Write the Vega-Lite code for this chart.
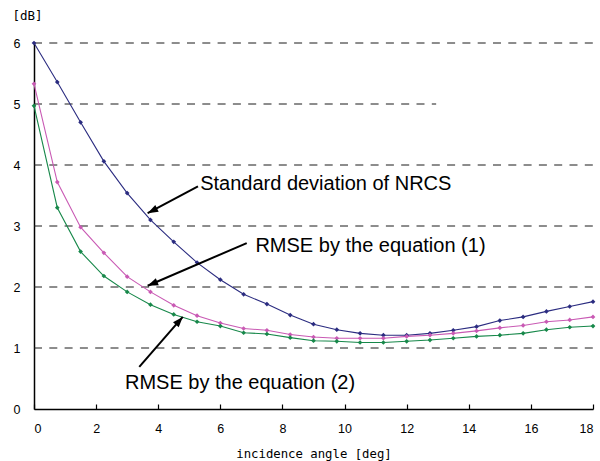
{
  "$schema": "https://vega.github.io/schema/vega-lite/v6.json",
  "autosize": "none",
  "width": 559,
  "height": 366,
  "padding": {"left": 34, "top": 43, "right": 7, "bottom": 52},
  "background": "white",
  "config": {
    "view": {"stroke": null},
    "font": "Liberation Sans"
  },
  "datasets": {
    "series": [
      {"angle": 0, "value": 6.00, "series": "Standard deviation of NRCS"},
      {"angle": 0.75, "value": 5.36, "series": "Standard deviation of NRCS"},
      {"angle": 1.5, "value": 4.70, "series": "Standard deviation of NRCS"},
      {"angle": 2.25, "value": 4.06, "series": "Standard deviation of NRCS"},
      {"angle": 3, "value": 3.54, "series": "Standard deviation of NRCS"},
      {"angle": 3.75, "value": 3.10, "series": "Standard deviation of NRCS"},
      {"angle": 4.5, "value": 2.74, "series": "Standard deviation of NRCS"},
      {"angle": 5.25, "value": 2.40, "series": "Standard deviation of NRCS"},
      {"angle": 6, "value": 2.12, "series": "Standard deviation of NRCS"},
      {"angle": 6.75, "value": 1.88, "series": "Standard deviation of NRCS"},
      {"angle": 7.5, "value": 1.72, "series": "Standard deviation of NRCS"},
      {"angle": 8.25, "value": 1.54, "series": "Standard deviation of NRCS"},
      {"angle": 9, "value": 1.39, "series": "Standard deviation of NRCS"},
      {"angle": 9.75, "value": 1.30, "series": "Standard deviation of NRCS"},
      {"angle": 10.5, "value": 1.24, "series": "Standard deviation of NRCS"},
      {"angle": 11.25, "value": 1.21, "series": "Standard deviation of NRCS"},
      {"angle": 12, "value": 1.21, "series": "Standard deviation of NRCS"},
      {"angle": 12.75, "value": 1.24, "series": "Standard deviation of NRCS"},
      {"angle": 13.5, "value": 1.29, "series": "Standard deviation of NRCS"},
      {"angle": 14.25, "value": 1.35, "series": "Standard deviation of NRCS"},
      {"angle": 15, "value": 1.45, "series": "Standard deviation of NRCS"},
      {"angle": 15.75, "value": 1.51, "series": "Standard deviation of NRCS"},
      {"angle": 16.5, "value": 1.60, "series": "Standard deviation of NRCS"},
      {"angle": 17.25, "value": 1.68, "series": "Standard deviation of NRCS"},
      {"angle": 18, "value": 1.76, "series": "Standard deviation of NRCS"},
      {"angle": 0, "value": 5.33, "series": "RMSE by the equation (1)"},
      {"angle": 0.75, "value": 3.72, "series": "RMSE by the equation (1)"},
      {"angle": 1.5, "value": 2.98, "series": "RMSE by the equation (1)"},
      {"angle": 2.25, "value": 2.56, "series": "RMSE by the equation (1)"},
      {"angle": 3, "value": 2.17, "series": "RMSE by the equation (1)"},
      {"angle": 3.75, "value": 1.92, "series": "RMSE by the equation (1)"},
      {"angle": 4.5, "value": 1.70, "series": "RMSE by the equation (1)"},
      {"angle": 5.25, "value": 1.53, "series": "RMSE by the equation (1)"},
      {"angle": 6, "value": 1.41, "series": "RMSE by the equation (1)"},
      {"angle": 6.75, "value": 1.32, "series": "RMSE by the equation (1)"},
      {"angle": 7.5, "value": 1.29, "series": "RMSE by the equation (1)"},
      {"angle": 8.25, "value": 1.22, "series": "RMSE by the equation (1)"},
      {"angle": 9, "value": 1.18, "series": "RMSE by the equation (1)"},
      {"angle": 9.75, "value": 1.16, "series": "RMSE by the equation (1)"},
      {"angle": 10.5, "value": 1.16, "series": "RMSE by the equation (1)"},
      {"angle": 11.25, "value": 1.16, "series": "RMSE by the equation (1)"},
      {"angle": 12, "value": 1.19, "series": "RMSE by the equation (1)"},
      {"angle": 12.75, "value": 1.21, "series": "RMSE by the equation (1)"},
      {"angle": 13.5, "value": 1.24, "series": "RMSE by the equation (1)"},
      {"angle": 14.25, "value": 1.28, "series": "RMSE by the equation (1)"},
      {"angle": 15, "value": 1.33, "series": "RMSE by the equation (1)"},
      {"angle": 15.75, "value": 1.37, "series": "RMSE by the equation (1)"},
      {"angle": 16.5, "value": 1.43, "series": "RMSE by the equation (1)"},
      {"angle": 17.25, "value": 1.46, "series": "RMSE by the equation (1)"},
      {"angle": 18, "value": 1.51, "series": "RMSE by the equation (1)"},
      {"angle": 0, "value": 4.97, "series": "RMSE by the equation (2)"},
      {"angle": 0.75, "value": 3.30, "series": "RMSE by the equation (2)"},
      {"angle": 1.5, "value": 2.58, "series": "RMSE by the equation (2)"},
      {"angle": 2.25, "value": 2.18, "series": "RMSE by the equation (2)"},
      {"angle": 3, "value": 1.92, "series": "RMSE by the equation (2)"},
      {"angle": 3.75, "value": 1.71, "series": "RMSE by the equation (2)"},
      {"angle": 4.5, "value": 1.55, "series": "RMSE by the equation (2)"},
      {"angle": 5.25, "value": 1.43, "series": "RMSE by the equation (2)"},
      {"angle": 6, "value": 1.36, "series": "RMSE by the equation (2)"},
      {"angle": 6.75, "value": 1.25, "series": "RMSE by the equation (2)"},
      {"angle": 7.5, "value": 1.23, "series": "RMSE by the equation (2)"},
      {"angle": 8.25, "value": 1.17, "series": "RMSE by the equation (2)"},
      {"angle": 9, "value": 1.12, "series": "RMSE by the equation (2)"},
      {"angle": 9.75, "value": 1.11, "series": "RMSE by the equation (2)"},
      {"angle": 10.5, "value": 1.09, "series": "RMSE by the equation (2)"},
      {"angle": 11.25, "value": 1.09, "series": "RMSE by the equation (2)"},
      {"angle": 12, "value": 1.11, "series": "RMSE by the equation (2)"},
      {"angle": 12.75, "value": 1.13, "series": "RMSE by the equation (2)"},
      {"angle": 13.5, "value": 1.16, "series": "RMSE by the equation (2)"},
      {"angle": 14.25, "value": 1.19, "series": "RMSE by the equation (2)"},
      {"angle": 15, "value": 1.21, "series": "RMSE by the equation (2)"},
      {"angle": 15.75, "value": 1.24, "series": "RMSE by the equation (2)"},
      {"angle": 16.5, "value": 1.30, "series": "RMSE by the equation (2)"},
      {"angle": 17.25, "value": 1.34, "series": "RMSE by the equation (2)"},
      {"angle": 18, "value": 1.36, "series": "RMSE by the equation (2)"}
    ],
    "grid": [
      {"level": 1, "from": 0, "to": 18},
      {"level": 2, "from": 0, "to": 18},
      {"level": 3, "from": 0, "to": 18},
      {"level": 4, "from": 0, "to": 18},
      {"level": 5, "from": 0, "to": 12.95},
      {"level": 6, "from": 0, "to": 18}
    ],
    "notes": [
      {"id": 1, "label": "Standard deviation of NRCS", "tx": 5.35, "ty": 3.595, "ax": 5.28, "ay": 3.65, "hx": 3.66, "hy": 3.21},
      {"id": 2, "label": "RMSE by the equation (1)", "tx": 7.13, "ty": 2.58, "ax": 6.85, "ay": 2.72, "hx": 3.66, "hy": 2.02},
      {"id": 3, "label": "RMSE by the equation (2)", "tx": 2.93, "ty": 0.32, "ax": 3.39, "ay": 0.69, "hx": 4.79, "hy": 1.51}
    ]
  },
  "layer": [
    {
      "data": {"name": "grid"},
      "mark": {"type": "rule", "color": "#1a1a1a", "strokeWidth": 1, "strokeDash": [8, 7.3]},
      "encoding": {
        "y": {"field": "level", "type": "quantitative", "scale": {"domain": [0, 6]},
          "axis": {"values": [0, 1, 2, 3, 4, 5, 6], "format": "d", "grid": false, "ticks": false, "domainColor": "#000000", "domainWidth": 1.5,
            "labelFontSize": 12.5, "labelColor": "#000000", "labelPadding": 14, "labelFont": "Liberation Sans",
            "title": "[dB]", "titleAngle": 0, "titleX": -7, "titleY": -28, "titleAlign": "center", "titleBaseline": "middle",
            "titleFont": "DejaVu Sans Mono", "titleFontSize": 12.5, "titleFontWeight": "normal", "titleColor": "#000000"}},
        "x": {"field": "from", "type": "quantitative", "scale": {"domain": [0, 18]},
          "axis": {"values": [0, 2, 4, 6, 8, 10, 12, 14, 16, 18], "format": "d", "grid": false, "ticks": true, "tickSize": -5, "tickColor": "#000000", "tickWidth": 1.2,
            "domainColor": "#000000", "domainWidth": 1.5, "labelFontSize": 12.5, "labelColor": "#000000", "labelPadding": 24, "labelBaseline": "middle", "labelFont": "Liberation Sans",
            "title": "incidence angle [deg]", "titleFont": "DejaVu Sans Mono", "titleFontSize": 12.3, "titleFontWeight": "normal", "titleColor": "#000000",
            "titleBaseline": "alphabetic", "titleY": 48}},
        "x2": {"field": "to"}
      }
    },
    {
      "data": {"name": "series"},
      "mark": {"type": "line", "strokeWidth": 1.1, "point": {"shape": "diamond", "size": 22, "filled": true}},
      "encoding": {
        "x": {"field": "angle", "type": "quantitative"},
        "y": {"field": "value", "type": "quantitative"},
        "color": {"field": "series", "type": "nominal", "legend": null,
          "scale": {"domain": ["Standard deviation of NRCS", "RMSE by the equation (1)", "RMSE by the equation (2)"],
                    "range": ["#2B2C80", "#C95AB4", "#17884A"]}}
      }
    },
    {
      "data": {"name": "notes"},
      "mark": {"type": "rule", "color": "#000000", "strokeWidth": 2},
      "encoding": {
        "x": {"field": "ax", "type": "quantitative"},
        "y": {"field": "ay", "type": "quantitative"},
        "x2": {"field": "hx"},
        "y2": {"field": "hy"}
      }
    },
    {
      "data": {"name": "notes"},
      "transform": [{"filter": "datum.id == 1"}],
      "mark": {"type": "point", "shape": "M0,0 L0.36,1 L-0.36,1 Z", "size": 440, "filled": true, "color": "#000000", "opacity": 1, "angle": 243},
      "encoding": {
        "x": {"field": "hx", "type": "quantitative"},
        "y": {"field": "hy", "type": "quantitative"}
      }
    },
    {
      "data": {"name": "notes"},
      "transform": [{"filter": "datum.id == 2"}],
      "mark": {"type": "point", "shape": "M0,0 L0.36,1 L-0.36,1 Z", "size": 440, "filled": true, "color": "#000000", "opacity": 1, "angle": 247},
      "encoding": {
        "x": {"field": "hx", "type": "quantitative"},
        "y": {"field": "hy", "type": "quantitative"}
      }
    },
    {
      "data": {"name": "notes"},
      "transform": [{"filter": "datum.id == 3"}],
      "mark": {"type": "point", "shape": "M0,0 L0.36,1 L-0.36,1 Z", "size": 440, "filled": true, "color": "#000000", "opacity": 1, "angle": 41},
      "encoding": {
        "x": {"field": "hx", "type": "quantitative"},
        "y": {"field": "hy", "type": "quantitative"}
      }
    },
    {
      "data": {"name": "notes"},
      "mark": {"type": "text", "align": "left", "baseline": "alphabetic", "fontSize": 20, "font": "Liberation Sans", "color": "#000000"},
      "encoding": {
        "x": {"field": "tx", "type": "quantitative"},
        "y": {"field": "ty", "type": "quantitative"},
        "text": {"field": "label"}
      }
    }
  ]
}
